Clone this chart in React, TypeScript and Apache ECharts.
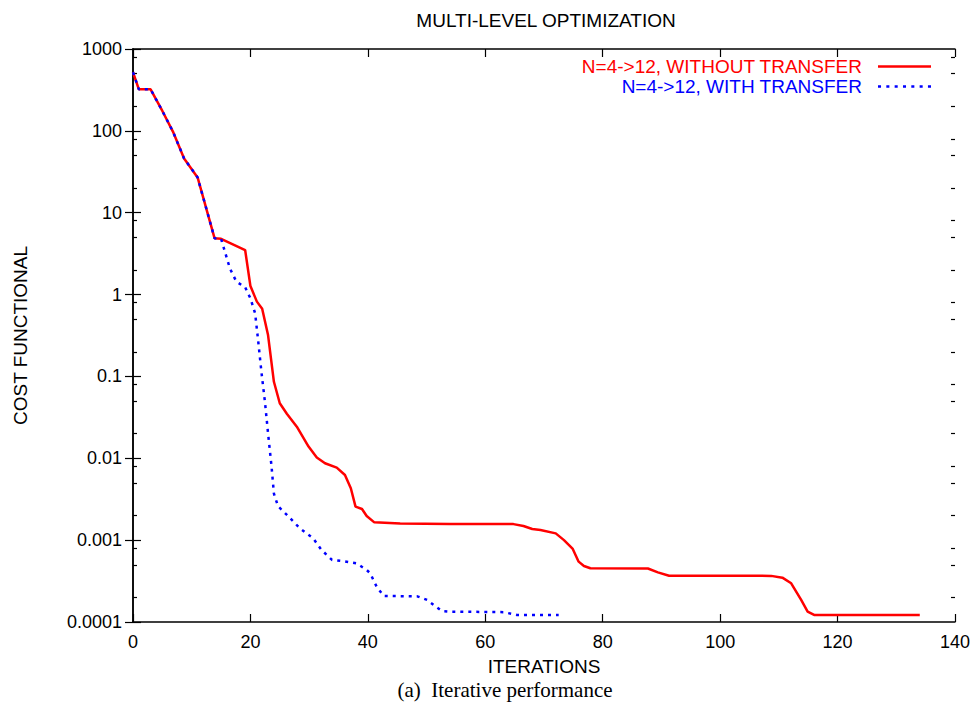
import React, { useEffect, useRef } from "react";
import * as echarts from "echarts";

const TITLE = "MULTI-LEVEL OPTIMIZATION";
const X_NAME = "ITERATIONS";
const Y_NAME = "COST FUNCTIONAL";
const CAPTION = "(a)  Iterative performance";
const SERIES_NAMES = ["N=4->12, WITHOUT TRANSFER", "N=4->12, WITH TRANSFER"];
const Y_TICK_LABELS = ["0.0001", "0.001", "0.01", "0.1", "1", "10", "100", "1000"];
const MINOR_Y_TICKS = [
  0.0002, 0.0005, 0.0008, 0.002, 0.005, 0.008, 0.02, 0.05, 0.08, 0.2, 0.5, 0.8,
  2, 5, 8, 20, 50, 80, 200, 500, 800,
];

const WITHOUT_TRANSFER: [number, number][] = [
  [0, 520], [1, 322], [3, 322], [5, 175], [6.8, 98], [8.7, 46], [11, 27],
  [13.9, 4.87], [15, 4.8], [19.1, 3.5], [20, 1.27], [21.1, 0.82], [22, 0.67],
  [23, 0.32], [24, 0.086], [25, 0.047], [26.2, 0.035], [27.9, 0.0243],
  [29.9, 0.0139], [31.3, 0.0102], [32.7, 0.0087], [34.7, 0.0077],
  [36.1, 0.00625], [37.1, 0.0043], [37.9, 0.00257], [39, 0.0024],
  [39.8, 0.00197], [41.1, 0.00165], [45.5, 0.0016], [54, 0.00157],
  [64.8, 0.00157], [66.5, 0.00149], [68, 0.00137], [69.4, 0.00133],
  [72, 0.00121], [73.4, 0.001], [74.9, 0.00078], [75.9, 0.000546],
  [76.8, 0.000483], [77.9, 0.000453], [87.7, 0.00045], [89.4, 0.000404],
  [91.3, 0.000368], [108.7, 0.000366], [110.6, 0.000348], [112.1, 0.000297],
  [113.8, 0.000186], [114.9, 0.000134], [116, 0.000122], [134, 0.000122],
];

const WITH_TRANSFER: [number, number][] = [
  [0, 520], [1, 322], [3, 322], [5, 175], [6.8, 98], [8.7, 46], [11, 27],
  [13.9, 4.87], [15, 4.8], [16.5, 2.09], [17.6, 1.44], [19.1, 1.23],
  [20, 0.9], [20.8, 0.59], [21.3, 0.28], [21.9, 0.109], [22.5, 0.047],
  [23, 0.0202], [23.6, 0.0079], [24, 0.0037], [24.7, 0.0026],
  [26.5, 0.00194], [28.4, 0.0014], [30.7, 0.00105], [32.1, 0.00076],
  [33.9, 0.000573], [36.1, 0.00055], [38.1, 0.00052], [39.8, 0.000432],
  [40.4, 0.000394], [41.5, 0.00027], [42.7, 0.000208], [48.4, 0.000206],
  [50.1, 0.000186], [50.6, 0.000174], [52.6, 0.000136], [53.8, 0.000134],
  [63.1, 0.000132], [65.4, 0.000122], [72.5, 0.000122],
];

const SANS = "'Liberation Sans', Arial, sans-serif";
const SOLID_ICON = "path://M0,0h52v2.5h-52z";
const DOTTED_ICON =
  "path://M0,0h3v2.5h-3zM8.2,0h3v2.5h-3zM16.4,0h3v2.5h-3zM24.6,0h3v2.5h-3zM32.8,0h3v2.5h-3zM41,0h3v2.5h-3zM49.2,0h3v2.5h-3z";

export default function App() {
  const ref = useRef<HTMLDivElement>(null);
  useEffect(() => {
    if (!ref.current) return;
    const chart = echarts.init(ref.current, null, { renderer: "svg" });
    const axisLine = { show: true, lineStyle: { color: "#000", width: 1.5 } };
    const majorTick = { show: true, inside: true, length: 8, lineStyle: { color: "#000", width: 1.2 } };
    const minorTickStyle = {
      show: true, inside: true, length: 4,
      lineStyle: { color: "#000", width: 1.2 },
      customValues: MINOR_Y_TICKS,
    };
    const yBase = { type: "log", logBase: 10, min: 0.0001, max: 1000, gridIndex: 0, splitLine: { show: false } };
    const xBase = { type: "value", min: 0, max: 140, interval: 20, splitLine: { show: false } };
    chart.setOption({
      animation: false,
      backgroundColor: "#fff",
      title: {
        text: TITLE,
        left: 541,
        top: 6,
        textAlign: "center",
        textStyle: { fontFamily: SANS, fontSize: 19, fontWeight: "normal", color: "#000" },
      },
      legend: {
        orient: "vertical",
        right: 39,
        top: 52,
        align: "right",
        itemWidth: 53,
        itemHeight: 10,
        itemGap: 1,
        selectedMode: false,
        textStyle: { fontFamily: SANS, fontSize: 19, lineHeight: 17, padding: [0, 11, 0, 0] },
        data: [
          { name: SERIES_NAMES[0], icon: SOLID_ICON, textStyle: { color: "#ff0000" } },
          { name: SERIES_NAMES[1], icon: DOTTED_ICON, textStyle: { color: "#0000ff" } },
        ],
      },
      grid: { left: 133, right: 20, top: 49, bottom: 84, containLabel: false },
      xAxis: [
        {
          ...xBase,
          position: "bottom",
          name: X_NAME,
          nameLocation: "middle",
          nameGap: 35,
          nameTextStyle: { fontFamily: SANS, fontSize: 19, color: "#000" },
          axisLine,
          axisTick: majorTick,
          axisLabel: { fontFamily: SANS, fontSize: 18, color: "#000", margin: 11 },
        },
        {
          ...xBase,
          position: "top",
          axisLine,
          axisTick: majorTick,
          axisLabel: { show: false },
        },
      ],
      yAxis: [
        {
          ...yBase,
          position: "left",
          name: Y_NAME,
          nameLocation: "middle",
          nameGap: 103,
          nameTextStyle: { fontFamily: SANS, fontSize: 19, color: "#000" },
          axisLine,
          axisTick: majorTick,
          axisLabel: {
            fontFamily: SANS, fontSize: 18, color: "#000", margin: 11,
            formatter: (v: number) => Y_TICK_LABELS[Math.round(Math.log10(v)) + 4] ?? "",
          },
        },
        {
          ...yBase,
          position: "right",
          axisLine,
          axisTick: majorTick,
          axisLabel: { show: false },
        },
        {
          ...yBase,
          position: "left",
          axisLine: { show: false },
          axisTick: minorTickStyle,
          axisLabel: { show: false },
        },
        {
          ...yBase,
          position: "right",
          axisLine: { show: false },
          axisTick: minorTickStyle,
          axisLabel: { show: false },
        },
      ],
      series: [
        {
          name: SERIES_NAMES[0],
          type: "line",
          xAxisIndex: 0,
          yAxisIndex: 0,
          data: WITHOUT_TRANSFER,
          symbol: "none",
          lineStyle: { color: "#ff0000", width: 2.5 },
          itemStyle: { color: "#ff0000" },
          z: 2,
        },
        {
          name: SERIES_NAMES[1],
          type: "line",
          xAxisIndex: 0,
          yAxisIndex: 0,
          data: WITH_TRANSFER,
          symbol: "none",
          lineStyle: { color: "#0000ff", width: 2.5, type: [3, 5] },
          itemStyle: { color: "#0000ff" },
          z: 3,
        },
      ],
      graphic: [
        {
          type: "text",
          x: 505,
          y: 690,
          style: {
            text: CAPTION,
            fontFamily: "'Liberation Serif', 'Times New Roman', serif",
            fontSize: 21,
            fill: "#000",
            align: "center",
            verticalAlign: "middle",
          },
        },
      ],
    });
    return () => chart.dispose();
  }, []);
  return (
    <div
      ref={ref}
      style={{ position: "absolute", left: 0, top: 0, width: 975, height: 706 }}
    />
  );
}
